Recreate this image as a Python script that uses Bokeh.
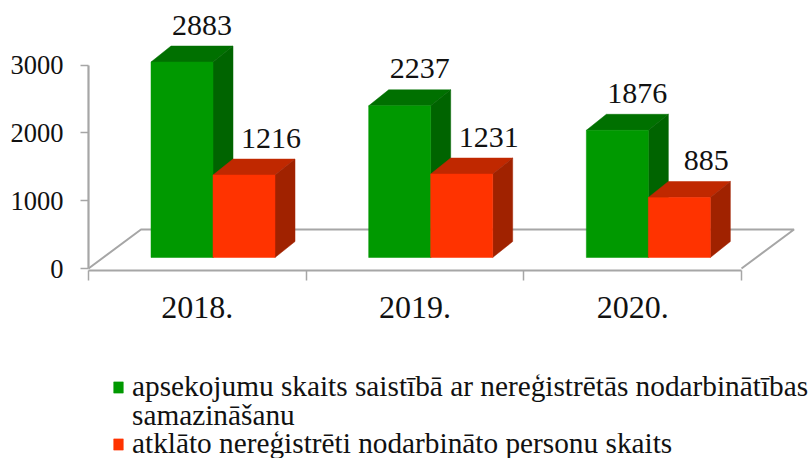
from bokeh.embed import file_html
from bokeh.resources import INLINE
from bokeh.plotting import figure
from bokeh.models import Range1d, LinearAxis, FixedTicker, Legend, LegendItem, ColumnDataSource
from bokeh.core.properties import value

# ---- data ----
categories = ["2018.", "2019.", "2020."]
surveys = [2883, 2237, 1876]
persons = [1216, 1231, 885]
y_ticks = [0, 1000, 2000, 3000]
label_surveys = "apsekojumu skaits saistībā ar nereģistrētās nodarbinātības"
label_surveys_2 = "samazināšanu"
label_persons = "atklāto nereģistrēti nodarbināto personu skaits"

# ---- layout (pixels) ----
PX_X = 217.67           # px per category
PX_Y = 0.0678           # px per value unit
DX, DY = 20 / PX_X, 16 / PX_Y
FLOOR_DX, FLOOR_DY = 52.5 / PX_X, 39 / PX_Y
BAR_W = 62 / PX_X
PAIR_SHIFT = 0.072
BASE = 11 / PX_Y
GAP = 11.5 / PX_Y
X_AXIS_AT = -1.5 / PX_Y

FONT = "Liberation Serif"
AXIS = "#a6a6a6"
GREEN, GREEN_TOP, GREEN_SIDE = "#009900", "#007000", "#006400"
RED, RED_TOP, RED_SIDE = "#ff3300", "#c02800", "#a02200"

p = figure(width=811, height=458, output_backend="svg", toolbar_location=None,
           x_axis_type=None, y_axis_type=None,
           x_range=Range1d(-88 / PX_X, 723 / PX_X), y_range=Range1d(-190 / PX_Y, 268 / PX_Y),
           min_border_left=0, min_border_right=0, min_border_top=0, min_border_bottom=0)
p.outline_line_color = None
p.xgrid.visible = False
p.ygrid.visible = False

# axes
n = len(categories)
xa = LinearAxis(ticker=FixedTicker(ticks=[i + 0.5 for i in range(n)], minor_ticks=list(range(n + 1))),
                major_label_overrides={i + 0.5: c for i, c in enumerate(categories)},
                bounds=(0, n), fixed_location=X_AXIS_AT,
                major_tick_line_color=None, major_tick_out=0, major_tick_in=0,
                minor_tick_out=10, minor_tick_in=0, minor_tick_line_color=AXIS, minor_tick_line_width=1.5,
                axis_line_color=AXIS, axis_line_width=2.2,
                major_label_text_font=FONT, major_label_text_font_size="32px",
                major_label_text_color="#111111", major_label_standoff=17)
p.add_layout(xa, "below")
ya = LinearAxis(ticker=FixedTicker(ticks=y_ticks), bounds=(0, 3000), fixed_location=0,
                major_tick_out=8, major_tick_in=0, minor_tick_out=0, minor_tick_in=0,
                major_tick_line_color=AXIS, major_tick_line_width=1.5,
                axis_line_color=AXIS, axis_line_width=2.2,
                major_label_text_font=FONT, major_label_text_font_size="26.5px",
                major_label_text_color="#111111", major_label_standoff=17)
p.add_layout(ya, "left")

# floor
p.line([0, FLOOR_DX, n + FLOOR_DX, n], [0, FLOOR_DY, FLOOR_DY, 0], line_color=AXIS, line_width=2)


def prism(lefts, vals, front, top, side):
    rights = [l + BAR_W for l in lefts]
    tops = [BASE + v for v in vals]
    p.patches([[l, l + DX, r + DX, r] for l, r in zip(lefts, rights)],
              [[t, t + DY, t + DY, t] for t in tops], fill_color=top, line_color=top, line_width=0.5)
    p.patches([[r, r + DX, r + DX, r] for r in rights],
              [[BASE, BASE + DY, t + DY, t] for t in tops], fill_color=side, line_color=side, line_width=0.5)
    return p.quad(left=lefts, right=rights, bottom=BASE, top=tops, fill_color=front, line_color=front, line_width=0.5)


green_left = [i + 0.5 + PAIR_SHIFT - BAR_W for i in range(n)]
red_left = [i + 0.5 + PAIR_SHIFT for i in range(n)]
g = prism(green_left, surveys, GREEN, GREEN_TOP, GREEN_SIDE)
r = prism(red_left, persons, RED, RED_TOP, RED_SIDE)

for lefts, vals, shift in ((green_left, surveys, 10), (red_left, persons, 17)):
    src = ColumnDataSource(dict(x=[l + BAR_W / 2 + DX / 2 + shift / PX_X for l in lefts],
                                y=[BASE + v + DY + GAP for v in vals],
                                t=[str(v) for v in vals]))
    p.text("x", "y", text="t", source=src, text_align="center", text_baseline="bottom",
           text_font=value(FONT), text_font_size="30px", text_color="#111111")

# one legend per text line, so that the line spacing can follow the reference
for text, rends, y in ((label_surveys, [g], 55), (label_surveys_2, [], 26), (label_persons, [r], -2)):
    legend = Legend(items=[LegendItem(label=text, renderers=rends)],
                    location=(112, y), orientation="vertical", border_line_color=None,
                    background_fill_alpha=0, padding=0, margin=0, spacing=0,
                    glyph_width=12, glyph_height=14, label_standoff=8,
                    label_text_font=FONT, label_text_font_size="29.3px", label_text_color="#111111",
                    label_height=29)
    p.add_layout(legend, "center")

open("out.html", "w").write(file_html(p, INLINE))
